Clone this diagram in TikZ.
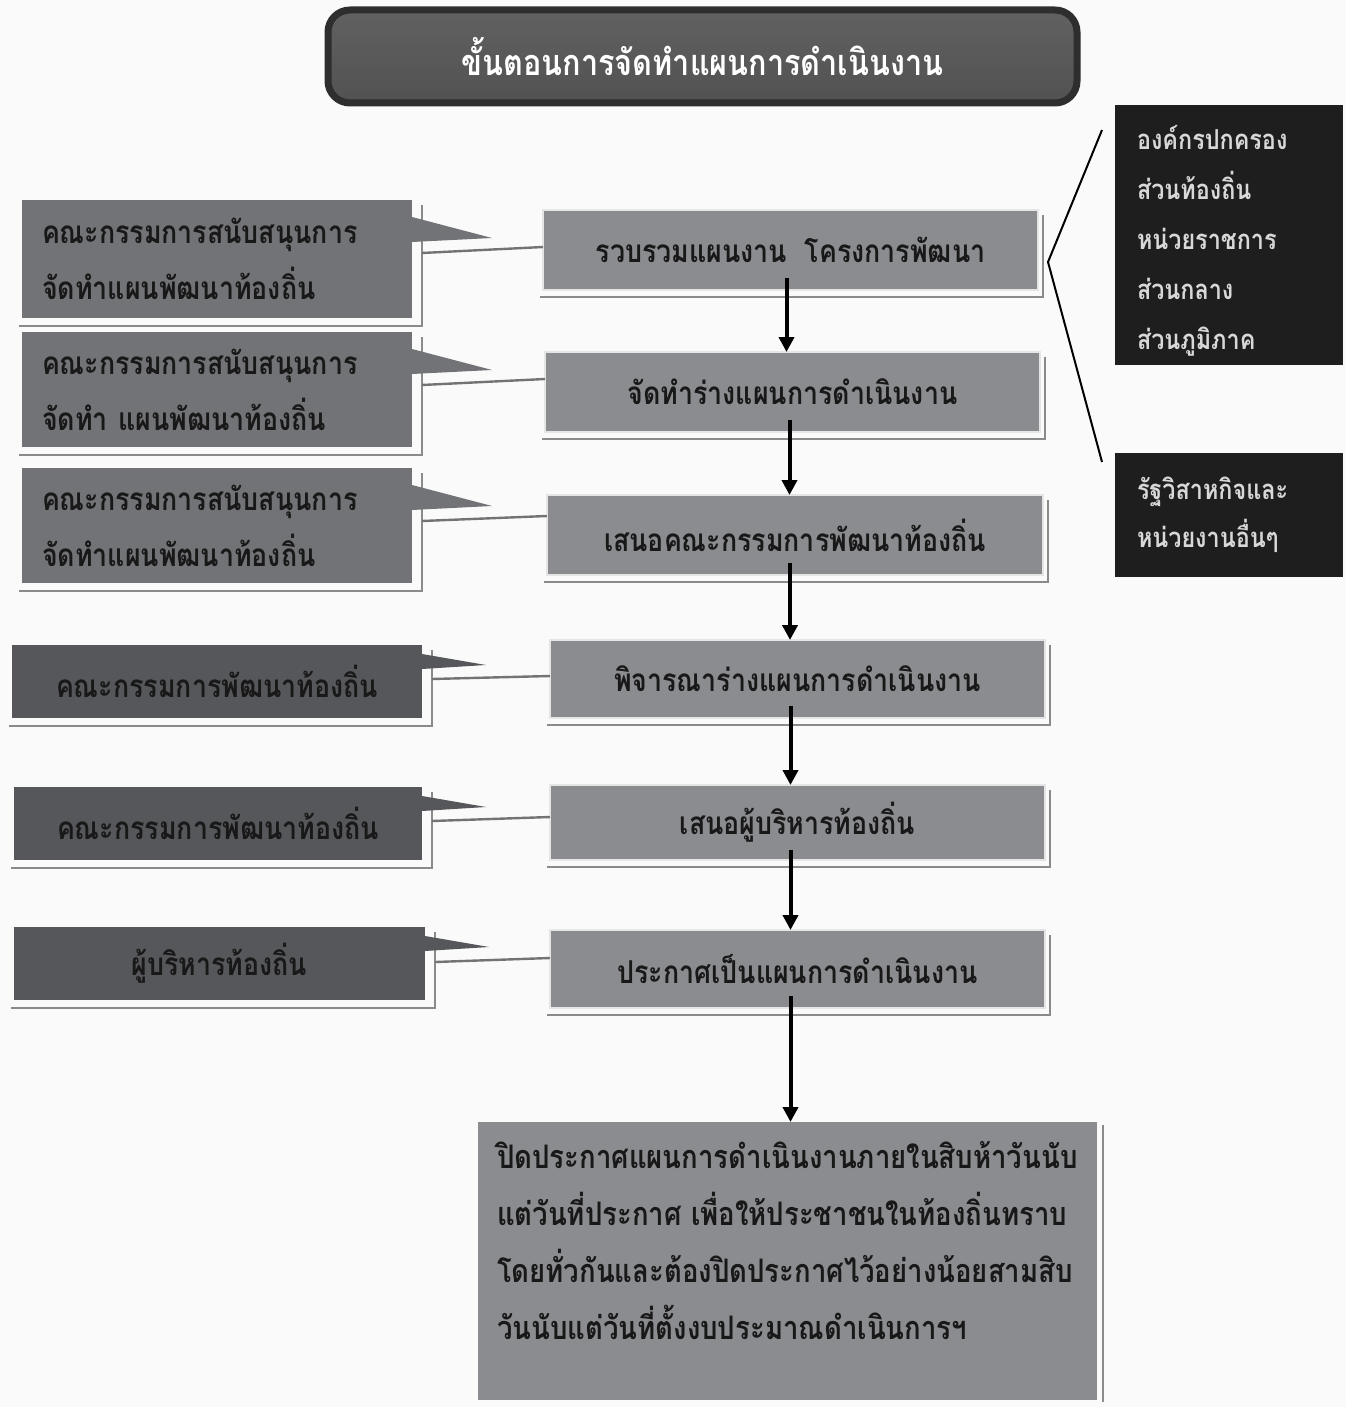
\documentclass[tikz,border=0pt]{standalone}
\usepackage{fontspec}
\newfontfamily\thaifont[Script=Thai,FakeStretch=0.85]{Loma}
\usetikzlibrary{arrows.meta,calc}
\definecolor{pagebg}{HTML}{FAFAFA}
\definecolor{sgray}{HTML}{8B8C8F}
\definecolor{lgray}{HTML}{727376}
\definecolor{dgray}{HTML}{56575A}
\definecolor{blk}{HTML}{1E1E1E}
\definecolor{txtdark}{HTML}{181818}
\definecolor{txtlight}{HTML}{D8D8D8}
\definecolor{shline}{HTML}{8A8A8A}
\newcommand\bodyfont{\thaifont\bfseries\fontsize{31.5}{56}\selectfont}
\newcommand\notefont{\thaifont\bfseries\fontsize{32.4}{57}\selectfont}
\newcommand\orgfont{\thaifont\bfseries\fontsize{27.5}{50}\selectfont}
\newcommand\titlefont{\thaifont\bfseries\fontsize{36}{40}\selectfont}
\newcommand\boxshadow[3]{%
  \draw[shadowline] ($(#1.south west)+(-3,#3)$) -- ($(#1.south east)+(#2,#3)$) -- ($(#1.north east)+(#2,5)$);}
\tikzset{
  basebox/.style={inner sep=0pt, outer sep=0pt, anchor=north west, font=\bodyfont, text=txtdark},
  titlebox/.style={basebox, rounded corners=22pt, draw=black!82, line width=7pt,
    top color=black!62, middle color=black!50, bottom color=black!68, text=white, font=\titlefont},
  sbox/.style={basebox, fill=sgray, draw=white!90!black, line width=1.2pt},
  lbox/.style={basebox, fill=lgray, inner xsep=20pt, align=left},
  dbox/.style={basebox, fill=dgray},
  rbox/.style={basebox, fill=blk},
  rtext/.style={basebox, text=txtlight, align=left, font=\orgfont},
  bbox/.style={basebox, fill=sgray},
  shadowline/.style={draw=shline, line width=2.2pt},
  connector/.style={draw=black!55, line width=2.4pt},
  flow/.style={draw=black, line width=4pt, -{Triangle[width=15pt,length=15pt]}},
  bracketline/.style={draw=black, line width=2pt},
}
\begin{document}
\begin{tikzpicture}[x=1pt,y=-1pt]
\useasboundingbox (0,0) rectangle (1346,1407);
\fill[pagebg] (0,0) rectangle (1346,1407);

% title
\node[titlebox, minimum width=749pt, minimum height=93pt] (T) at (328,10) {ขั้นตอนการจัดทำแผนการดำเนินงาน};

% main steps
\node[sbox, minimum width=495pt, minimum height=80pt] (s1) at (543,210) {รวบรวมแผนงาน~ โครงการพัฒนา};
\node[sbox, minimum width=495pt, minimum height=80pt] (s2) at (545,352) {จัดทำร่างแผนการดำเนินงาน};
\node[sbox, minimum width=496pt, minimum height=80pt] (s3) at (547,495) {เสนอคณะกรรมการพัฒนาท้องถิ่น};
\node[sbox, minimum width=495pt, minimum height=78pt] (s4) at (550,640) {พิจารณาร่างแผนการดำเนินงาน};
\node[sbox, minimum width=495pt, minimum height=75pt] (s5) at (550,785) {เสนอผู้บริหารท้องถิ่น};
\node[sbox, minimum width=495pt, minimum height=78pt] (s6) at (550,930) {ประกาศเป็นแผนการดำเนินงาน};
\foreach \n in {s1,s2,s3,s4,s5,s6}{\boxshadow{\n}{5}{7}}

% bottom box
\node[bbox, minimum width=619pt, minimum height=278pt] (B) at (478,1122) {};
\draw[shadowline] ($(B.north east)+(6,3)$) -- ($(B.south east)+(6,2)$);
\node[basebox, align=left, font=\notefont] (Bt) at ($(B.north west)+(19,19)$)
  {ปิดประกาศแผนการดำเนินงานภายในสิบห้าวันนับ\\
   แต่วันที่ประกาศ เพื่อให้ประชาชนในท้องถิ่นทราบ\\
   โดยทั่วกันและต้องปิดประกาศไว้อย่างน้อยสามสิบ\\
   วันนับแต่วันที่ตั้งงบประมาณดำเนินการฯ};

% left boxes
\node[lbox, minimum width=390pt, minimum height=118pt, text width=350pt] (L1) at (22,200)
  {คณะกรรมการสนับสนุนการ\\จัดทำแผนพัฒนาท้องถิ่น};
\node[lbox, minimum width=390pt, minimum height=115pt, text width=350pt] (L2) at (22,332)
  {คณะกรรมการสนับสนุนการ\\จัดทำ แผนพัฒนาท้องถิ่น};
\node[lbox, minimum width=390pt, minimum height=115pt, text width=350pt] (L3) at (22,468)
  {คณะกรรมการสนับสนุนการ\\จัดทำแผนพัฒนาท้องถิ่น};
\node[dbox, minimum width=410pt, minimum height=73pt] (L4) at (12,645) {คณะกรรมการพัฒนาท้องถิ่น};
\node[dbox, minimum width=408pt, minimum height=73pt] (L5) at (14,787) {คณะกรรมการพัฒนาท้องถิ่น};
\node[dbox, minimum width=411pt, minimum height=73pt] (L6) at (14,927) {ผู้บริหารท้องถิ่น};
\foreach \n in {L1,L2,L3}{\boxshadow{\n}{10}{8}}
\foreach \n in {L4,L5,L6}{\boxshadow{\n}{10}{8}}

% callout wedges
\foreach \n in {L1,L2,L3}{
  \fill[lgray] ($(\n.north east)+(0,17)$) -- ($(\n.north east)+(80,38)$) -- ($(\n.north east)+(0,42)$) -- cycle;}
\foreach \n in {L4,L5,L6}{
  \fill[dgray] ($(\n.north east)+(0,9)$) -- ($(\n.north east)+(64,20)$) -- ($(\n.north east)+(0,24)$) -- cycle;}

% connectors from committees to steps
\draw[connector] ($(L1.north east)+(10,53)$) -- ($(s1.north west)+(0,37)$);
\draw[connector] ($(L2.north east)+(10,53)$) -- ($(s2.north west)+(0,27)$);
\draw[connector] ($(L3.north east)+(10,53)$) -- ($(s3.north west)+(0,21)$);
\draw[connector] ($(L4.north east)+(10,34)$) -- ($(s4.north west)+(0,36)$);
\draw[connector] ($(L5.north east)+(10,34)$) -- ($(s5.north west)+(0,32)$);
\draw[connector] ($(L6.north east)+(10,35)$) -- ($(s6.north west)+(0,28)$);

% flow arrows
\coordinate (a1) at ($(s1.south)+(-4,-12)$);
\coordinate (a2) at ($(s2.south)+(-3,-12)$);
\coordinate (a3) at ($(s3.south)+(-5,-12)$);
\coordinate (a4) at ($(s4.south)+(-7,-12)$);
\coordinate (a5) at ($(s5.south)+(-7,-10)$);
\coordinate (a6) at ($(s6.south)+(-7,-12)$);
\draw[flow] (a1) -- (a1 |- s2.north);
\draw[flow] (a2) -- (a2 |- s3.north);
\draw[flow] (a3) -- (a3 |- s4.north);
\draw[flow] (a4) -- (a4 |- s5.north);
\draw[flow] (a5) -- (a5 |- s6.north);
\draw[flow] (a6) -- (a6 |- B.north);

% right side organisations
\node[rbox, minimum width=228pt, minimum height=260pt] (R1) at (1115,105) {};
\node[rtext] (R1t) at ($(R1.north west)+(22,20)$)
  {องค์กรปกครอง\\ส่วนท้องถิ่น\\หน่วยราชการ\\ส่วนกลาง\\ส่วนภูมิภาค};
\node[rbox, minimum width=228pt, minimum height=124pt] (R2) at (1115,453) {};
\node[rtext, anchor=west, font=\thaifont\bfseries\fontsize{27.5}{48}\selectfont] (R2t) at ($(R2.west)+(22,0)$)
  {รัฐวิสาหกิจและ\\หน่วยงานอื่นๆ};
\coordinate (brk) at ($(s1.north east)+(10,52)$);
\draw[bracketline] ($(R1.north west)+(-13,25)$) -- (brk) -- ($(R2.north west)+(-13,9)$);
\end{tikzpicture}
\end{document}
